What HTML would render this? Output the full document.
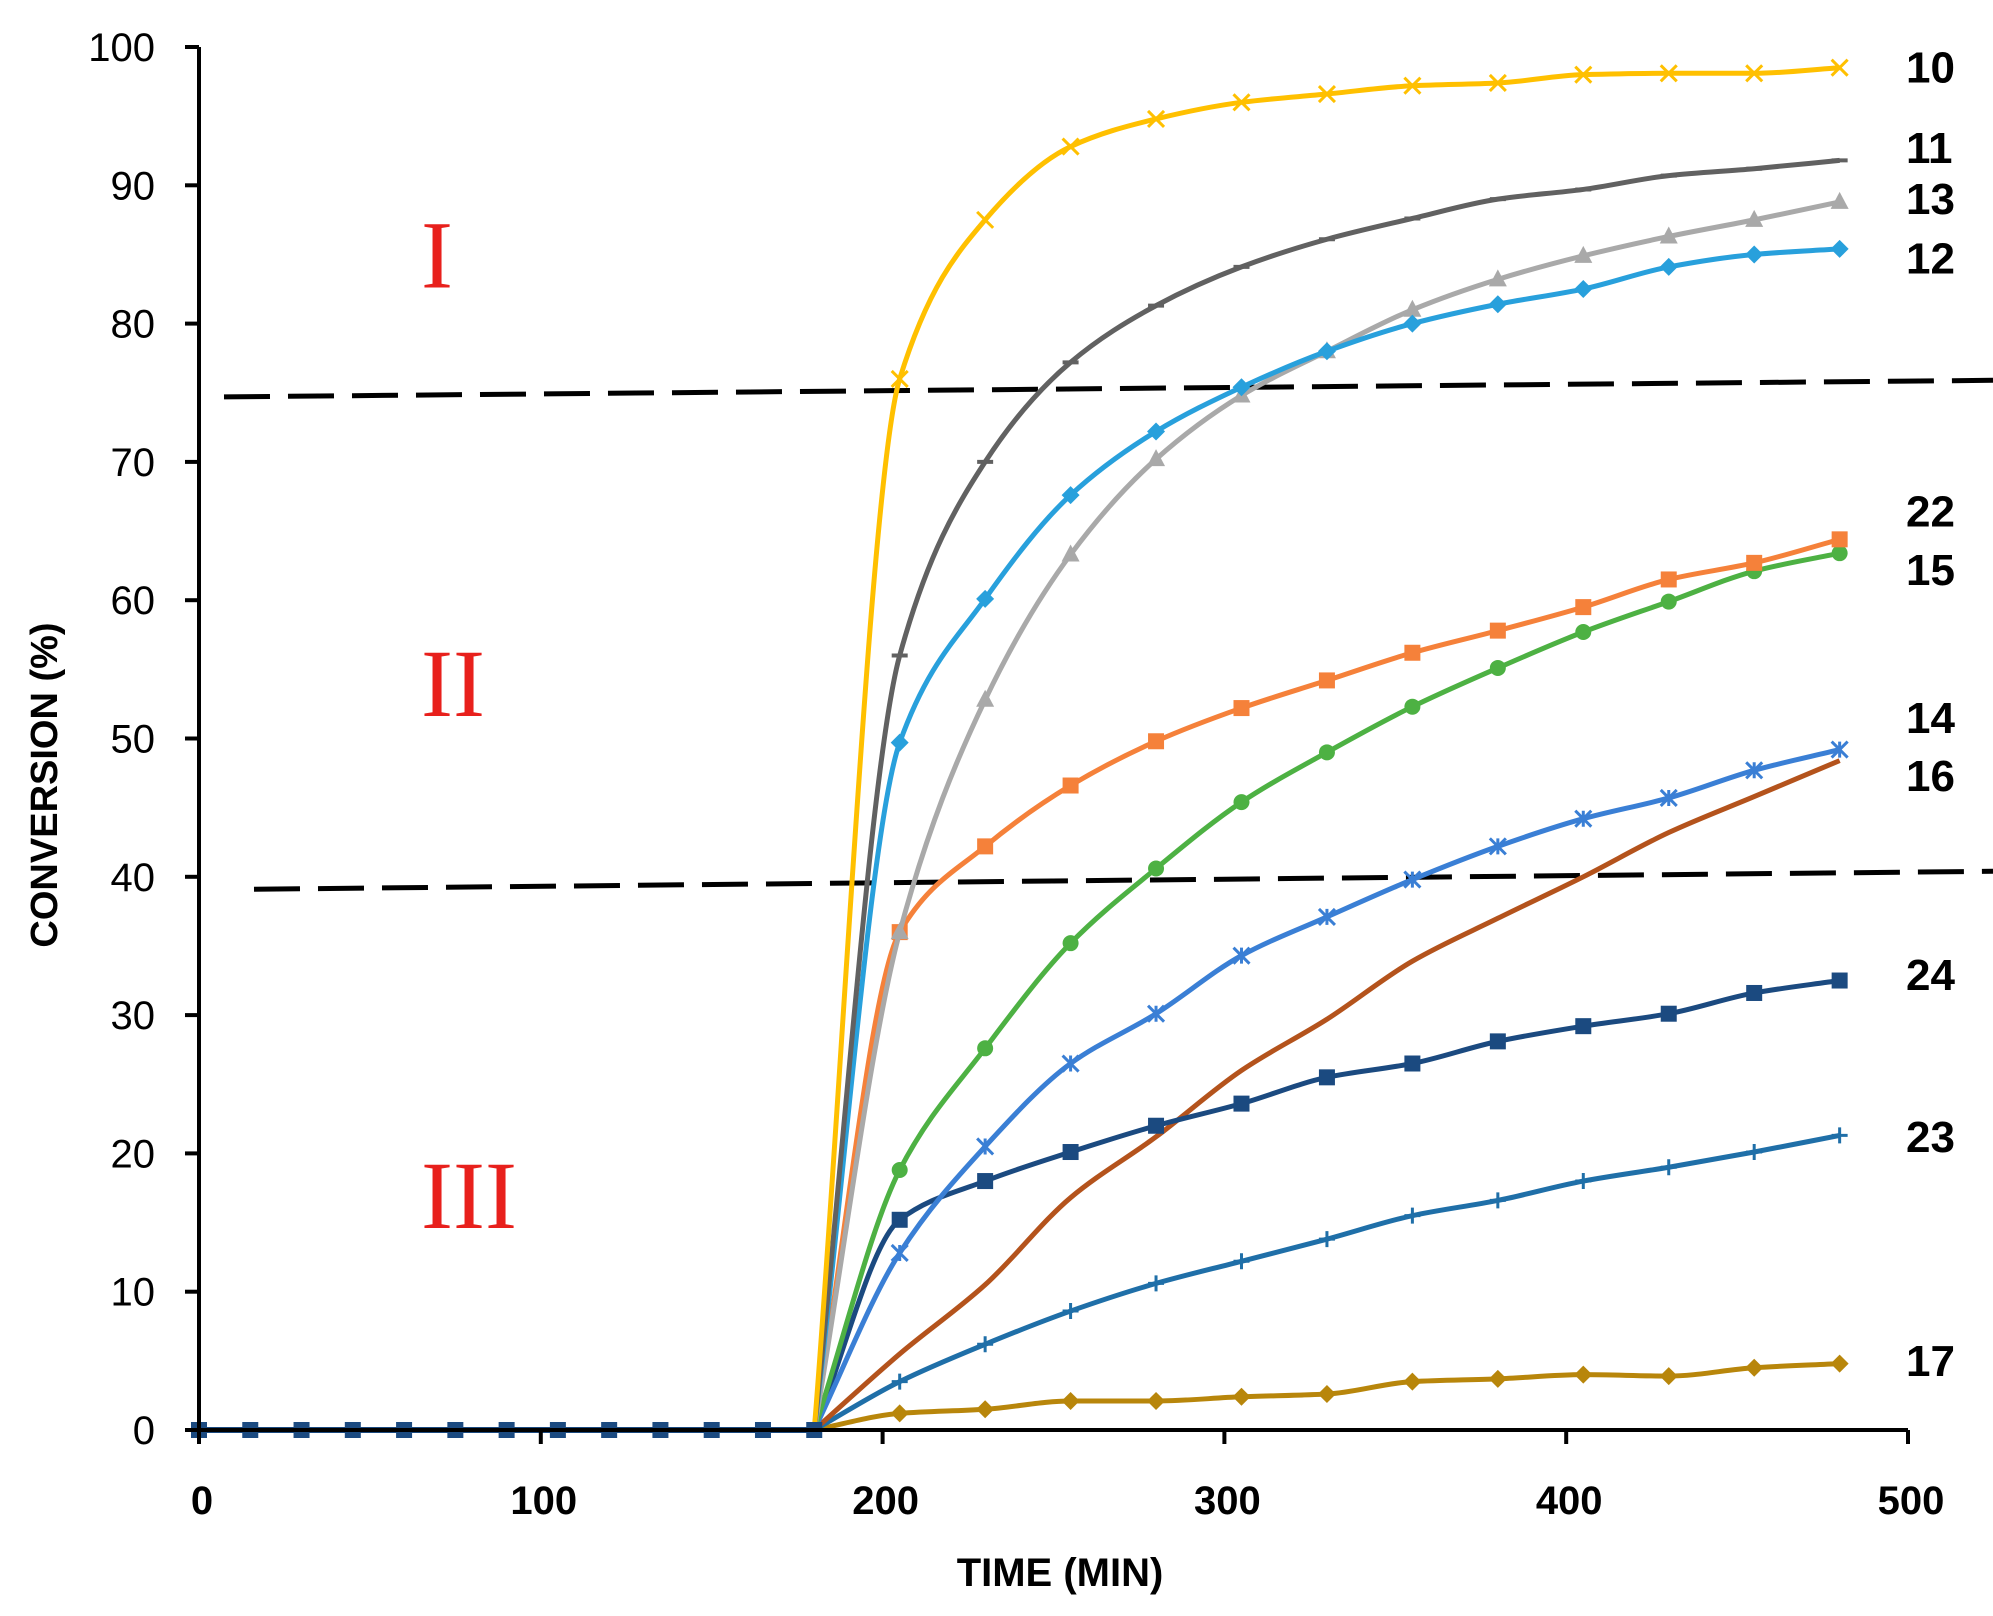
<!DOCTYPE html>
<html><head><meta charset="utf-8"><style>
html,body{margin:0;padding:0;background:#fff;}
svg{display:block;font-family:"Liberation Sans",sans-serif;}
</style></head><body>
<svg id="chart" width="1993" height="1616" viewBox="0 0 1993 1616">
<g id="grid"></g><g id="series"></g><g id="axes"></g><g id="labels"></g>
</svg>
<script>
const xTicks=[0,100,200,300,400,500];
const yTicks=[0,10,20,30,40,50,60,70,80,90,100];
const zeroTimes=[0,15,30,45,60,75,90,105,120,135,150,165,180];
const times=[205,230,255,280,305,330,355,380,405,430,455,480];
const s10=[76,87.5,92.8,94.8,96,96.6,97.2,97.4,98,98.1,98.1,98.5];
const s11=[56,70,77.2,81.3,84.1,86.1,87.6,89,89.7,90.7,91.2,91.8];
const s13=[36,52.8,63.3,70.2,74.8,78,81,83.2,84.9,86.3,87.5,88.8];
const s12=[49.7,60.1,67.6,72.2,75.4,78,80,81.4,82.5,84.1,85,85.4];
const s22=[36,42.2,46.6,49.8,52.2,54.2,56.2,57.8,59.5,61.5,62.7,64.4];
const s15=[18.8,27.6,35.2,40.6,45.4,49,52.3,55.1,57.7,59.9,62.1,63.4];
const s14=[12.8,20.5,26.5,30.1,34.3,37.1,39.8,42.2,44.2,45.7,47.7,49.2];
const s16=[5.5,10.5,16.8,21.2,26,29.7,33.9,37,40,43.2,45.8,48.4];
const s24=[15.2,18,20.1,22,23.6,25.5,26.5,28.1,29.2,30.1,31.6,32.5];
const s23=[3.5,6.2,8.6,10.6,12.2,13.8,15.5,16.6,18,19,20.1,21.3];
const s17=[1.2,1.5,2.1,2.1,2.4,2.6,3.5,3.7,4,3.9,4.5,4.8];
const seriesNames=["17","23","16","24","14","15","22","13","12","11","10"];
const seriesVals=[s17,s23,s16,s24,s14,s15,s22,s13,s12,s11,s10];
const seriesColors=["#b8860b","#1f6fa8","#b4531c","#1b4a80","#3a7fd5","#4db143","#f5813a","#a9a9a9","#28a0dc","#616161","#ffc000"];
const seriesMarkers=["diamond","plus","none","square","star","circle","square","triangle","diamond","dash","x"];
const labelNames=["10","11","13","12","22","15","14","16","24","23","17"];
const labelVals=[98.5,92.7,89,84.7,66.4,62.2,51.5,47.3,32.9,21.2,5];
const dashLines=[[74.7,75.9],[39.1,40.4]];

const X0=199,X1=1908,Y0=1430,Y1=47;
const xs=v=>X0+(v/500)*(X1-X0);
const ys=v=>Y0-(v/100)*(Y0-Y1);
const NS="http://www.w3.org/2000/svg";
function mk(tag,attrs,parent){const e=document.createElementNS(NS,tag);for(const k in attrs)e.setAttribute(k,attrs[k]);parent.appendChild(e);return e;}
const G=document.getElementById('grid'),S=document.getElementById('series'),A=document.getElementById('axes'),L=document.getElementById('labels');

dashLines.forEach((d,i)=>{
  const ln=mk('line',{x1:i==0?224:254,y1:ys(d[0]),x2:1993,y2:ys(d[1]),stroke:'#000','stroke-width':5,'stroke-dasharray':'46 18'},G);
  
  
});

// monotone cubic (Fritsch-Carlson) path
function smoothPath(pts){
  const n=pts.length,dx=[],m=[],t=[];
  for(let i=0;i<n-1;i++){dx.push(pts[i+1][0]-pts[i][0]);m.push((pts[i+1][1]-pts[i][1])/dx[i]);}
  t[0]=m[0];t[n-1]=m[n-2];
  for(let i=1;i<n-1;i++){
    if(m[i-1]*m[i]<=0)t[i]=0;
    else{const w1=2*dx[i]+dx[i-1],w2=dx[i]+2*dx[i-1];t[i]=(w1+w2)/(w1/m[i-1]+w2/m[i]);}
  }
  let d=`M${pts[0][0]},${pts[0][1]}`;
  for(let i=0;i<n-1;i++){
    const h=dx[i]/3;
    d+=` C${pts[i][0]+h},${pts[i][1]+t[i]*h} ${pts[i+1][0]-h},${pts[i+1][1]-t[i+1]*h} ${pts[i+1][0]},${pts[i+1][1]}`;
  }
  return d;
}
function marker(type,x,y,c,g){
  let e=null;const r=8;
  if(type=='square')e=mk('rect',{x:x-r,y:y-r,width:2*r,height:2*r,fill:c},g);
  else if(type=='diamond')e=mk('polygon',{points:`${x},${y-r-1} ${x+r+1},${y} ${x},${y+r+1} ${x-r-1},${y}`,fill:c},g);
  else if(type=='circle')e=mk('circle',{cx:x,cy:y,r:r,fill:c},g);
  else if(type=='triangle')e=mk('polygon',{points:`${x},${y-r-2} ${x+r+1},${y+r-1} ${x-r-1},${y+r-1}`,fill:c},g);
  else if(type=='x')e=mk('path',{d:`M${x-r},${y-r}L${x+r},${y+r}M${x-r},${y+r}L${x+r},${y-r}`,stroke:c,'stroke-width':3},g);
  else if(type=='star')e=mk('path',{d:`M${x-r},${y-r}L${x+r},${y+r}M${x-r},${y+r}L${x+r},${y-r}M${x},${y-r}L${x},${y+r}`,stroke:c,'stroke-width':3},g);
  else if(type=='plus')e=mk('path',{d:`M${x-r},${y}L${x+r},${y}M${x},${y-r}L${x},${y+r}`,stroke:c,'stroke-width':3},g);
  else if(type=='dash')e=mk('path',{d:`M${x-r},${y}L${x+r},${y}`,stroke:c,'stroke-width':4},g);
  if(e){}
}
seriesVals.forEach((vals,i)=>{
  const g=mk('g',{},S);
  
  
  const pts=[[xs(180),ys(0)]].concat(times.map((t,j)=>[xs(t),ys(vals[j])]));
  const p=mk('path',{d:smoothPath(pts),fill:'none',stroke:seriesColors[i],'stroke-width':5},g);
  
  
  times.forEach((t,j)=>marker(seriesMarkers[i],xs(t),ys(vals[j]),seriesColors[i],g));
});
const zg=mk('g',{},S);


const zl=mk('line',{x1:xs(0),y1:ys(0),x2:xs(180),y2:ys(0),stroke:'#1b4a80','stroke-width':6},zg);


zeroTimes.forEach(t=>marker('square',xs(t),ys(0),'#1b4a80',zg));

const ya=mk('line',{x1:X0,y1:Y1,x2:X0,y2:Y0+14,stroke:'#000','stroke-width':4},A);

const xa=mk('line',{x1:X0-14,y1:Y0,x2:X1,y2:Y0,stroke:'#000','stroke-width':4},A);

yTicks.forEach(v=>{
  const t=mk('line',{x1:X0-14,y1:ys(v),x2:X0,y2:ys(v),stroke:'#000','stroke-width':4},A);
  
  const tx=mk('text',{x:155,y:ys(v)+14,'text-anchor':'end','font-size':40,fill:'#000'},A);
  tx.textContent=v;
  
});
xTicks.forEach(v=>{
  const t=mk('line',{x1:xs(v),y1:Y0,x2:xs(v),y2:Y0+14,stroke:'#000','stroke-width':4},A);
  
  const tx=mk('text',{x:xs(v)+3,y:1514,'text-anchor':'middle','font-size':40,'font-weight':'bold',fill:'#000'},A);
  tx.textContent=v;
  
});
const xt=mk('text',{x:1060,y:1586,'text-anchor':'middle','font-size':40,'font-weight':'bold',fill:'#000'},A);
xt.textContent='TIME (MIN)';

const yt=mk('text',{x:0,y:0,'text-anchor':'middle','font-size':38,'font-weight':'bold',fill:'#000',transform:'translate(57,785) rotate(-90)'},A);
yt.textContent='CONVERSION (%)';


labelNames.forEach((n,i)=>{
  const t=mk('text',{x:1906,y:ys(labelVals[i])+15,'font-size':44,'font-weight':'bold',fill:'#000'},L);
  t.textContent=n;
  
});
const romans=[["I",437,85],["II",453,54],["III",469,17]];
romans.forEach(r=>{
  const t=mk('text',{x:r[1],y:ys(r[2])+33,'text-anchor':'middle','font-size':96,fill:'#e8201c','font-family':'"Liberation Serif",serif'},L);
  t.textContent=r[0];
  
});
</script>
</body></html>
